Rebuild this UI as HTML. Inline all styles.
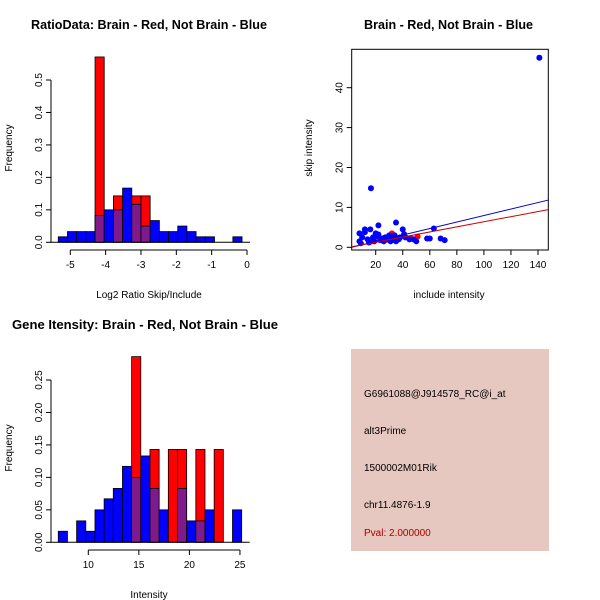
<!DOCTYPE html>
<html><head><meta charset="utf-8"><style>
body{margin:0;background:#fff}
svg{display:block;font-family:"Liberation Sans",sans-serif}
</style></head><body>
<svg id="c" width="600" height="600" viewBox="0 0 600 600">
<rect width="600" height="600" fill="#fff"/>
<text x="31" y="29" font-size="12.5" font-weight="bold" textLength="236" lengthAdjust="spacingAndGlyphs">RatioData: Brain - Red, Not Brain - Blue</text>
<text x="364" y="29" font-size="12.5" font-weight="bold" textLength="169" lengthAdjust="spacingAndGlyphs">Brain - Red, Not Brain - Blue</text>
<text x="12" y="329" font-size="13" font-weight="bold" textLength="266" lengthAdjust="spacingAndGlyphs">Gene Itensity: Brain - Red, Not Brain - Blue</text>
<text x="149" y="298" font-size="10" text-anchor="middle">Log2 Ratio Skip/Include</text>
<text x="449" y="298" font-size="10" text-anchor="middle">include intensity</text>
<text x="149" y="598" font-size="10" text-anchor="middle">Intensity</text>
<text transform="translate(12,148) rotate(-90)" font-size="10" text-anchor="middle">Frequency</text>
<text transform="translate(312,148) rotate(-90)" font-size="10" text-anchor="middle">skip intensity</text>
<text transform="translate(12,448) rotate(-90)" font-size="10" text-anchor="middle">Frequency</text>
<g id="g1"></g>
<g id="g2"></g>
<g id="g3"></g>
<g>
<rect x="351" y="349" width="198" height="202" fill="#e6c8c0"/>
<text x="364" y="397" font-size="10">G6961088@J914578_RC@i_at</text>
<text x="364" y="434" font-size="10">alt3Prime</text>
<text x="364" y="471" font-size="10">1500002M01Rik</text>
<text x="364" y="508" font-size="10">chr11.4876-1.9</text>
<text x="364" y="536" font-size="10" fill="#aa0000">Pval: 2.000000</text>
</g>
</svg>
<script>
const ratioBlue=[0.017,0.033,0.033,0.033,0.083,0.1,0.1,0.167,0.117,0.05,0.067,0.033,0.033,0.05,0.033,0.017,0.017,0,0,0.017];
const ratioRed=[0,0,0,0,0.571,0,0.143,0,0.143,0.143,0,0,0,0,0,0,0,0,0,0];
const ratioXTicks=[-5,-4,-3,-2,-1,0];
const ratioYTicks=[0,0.1,0.2,0.3,0.4,0.5];
const intBlue=[0.017,0,0.033,0.017,0.05,0.067,0.083,0.117,0.1,0.133,0.083,0.05,0,0.083,0.033,0.033,0.05,0,0,0.05];
const intRed=[0,0,0,0,0,0,0,0,0.286,0,0.143,0,0.143,0.143,0,0.143,0,0.143,0,0];
const intXTicks=[10,15,20,25];
const intYTicks=[0,0.05,0.1,0.15,0.2,0.25];
const incBlue=[141,16.5,35,22,63,40,12,16,8,20,22,41,30,34,10,14,18,25,28,32,37,45,48,50,58,60,68,71,8,9,19,24,27,31,35,38,42,15,21,26,30,33,12];
const skipBlue=[47.5,14.8,6.2,5.5,4.7,4.5,4.5,4.5,3.5,3.5,3.2,3.3,3,3,2.5,2,2.5,2.2,2,1.8,2,2,2,1.5,2.2,2.2,2.2,1.8,1.5,1,1.5,1.8,2.5,1.5,1.5,2.5,2.5,1.2,2.8,1.5,1.8,2.8,3.8];
const incRed=[32,46,51,17,23];
const skipRed=[3.5,2.3,2.7,1.5,1.8];
const fitBlue=[-0.18,0.0814];
const fitRed=[0,0.064];
const scXTicks=[20,40,60,80,100,120,140];
const scYTicks=[0,10,20,30,40];
const NS='http://www.w3.org/2000/svg';
function mk(p,t,a){const e=document.createElementNS(NS,t);for(const k in a)e.setAttribute(k,a[k]);p.appendChild(e);return e;}
function hist(g,blue,red,x0,bw,sx,sy,xt,yt,fmt,axY,axX){
  for(let i=0;i<blue.length;i++){
    const xa=sx(x0+i*bw),xb=sx(x0+(i+1)*bw);
    const b=blue[i],r=red[i],m=Math.min(b,r);
    if(r>0){const e=mk(g,'rect',{x:xa,y:sy(r),width:xb-xa,height:sy(0)-sy(r),fill:'#ff0000',stroke:'#000','stroke-width':0.8});
      
      }
    if(b>r){const e=mk(g,'rect',{x:xa,y:sy(b),width:xb-xa,height:sy(0)-sy(b),fill:'#0000ff',stroke:'#000','stroke-width':0.8});
      
      }
    if(m>0){const e=mk(g,'rect',{x:xa,y:sy(m),width:xb-xa,height:sy(0)-sy(m),fill:'#7f1a8c',stroke:'#000','stroke-width':0.8});
      
      }
  }
  mk(g,'line',{x1:sx(x0)-8,x2:sx(x0+blue.length*bw)+8,y1:sy(0),y2:sy(0),stroke:'#000'});
  mk(g,'line',{x1:sx(xt[0]),x2:sx(xt[xt.length-1]),y1:axX,y2:axX,stroke:'#000'});
  xt.forEach(v=>{mk(g,'line',{x1:sx(v),x2:sx(v),y1:axX,y2:axX+5,stroke:'#000'});
    const t=mk(g,'text',{x:sx(v),y:axX+18,'font-size':10,'text-anchor':'middle'});t.textContent=v;
    
    });
  mk(g,'line',{x1:axY,x2:axY,y1:sy(yt[0]),y2:sy(yt[yt.length-1]),stroke:'#000'});
  yt.forEach(v=>{mk(g,'line',{x1:axY-5,x2:axY,y1:sy(v),y2:sy(v),stroke:'#000'});
    const t=mk(g,'text',{transform:`translate(${axY-9},${sy(v)}) rotate(-90)`,'font-size':10,'text-anchor':'middle'});t.textContent=fmt(v);
    
    });
}
hist(document.getElementById('g1'),ratioBlue,ratioRed,-5.34,0.26,v=>70.3+(v+5)*35.34,v=>242.3-v*324.6,ratioXTicks,ratioYTicks,v=>v.toFixed(1),51,250);
hist(document.getElementById('g3'),intBlue,intRed,7.03,0.907,v=>88.3+(v-10)*10.11,v=>542.3-v*649.2,intXTicks,intYTicks,v=>v.toFixed(2),51,550);
const g2=document.getElementById('g2');
const sx=v=>375.7+(v-20)*1.3525, sy=v=>247.3-v*3.99;
const L=351.7,R=548.3,T=49.3,B=250;
mk(g2,'rect',{x:L,y:T,width:R-L,height:B-T,fill:'none',stroke:'#000'});
const cp=mk(g2,'clipPath',{id:'cp'});mk(cp,'rect',{x:L,y:T,width:R-L,height:B-T});
scXTicks.forEach(v=>{mk(g2,'line',{x1:sx(v),x2:sx(v),y1:B,y2:B+5,stroke:'#000'});
  const t=mk(g2,'text',{x:sx(v),y:B+18,'font-size':10,'text-anchor':'middle'});t.textContent=v;
  
  });
scYTicks.forEach(v=>{mk(g2,'line',{x1:L-5,x2:L,y1:sy(v),y2:sy(v),stroke:'#000'});
  const t=mk(g2,'text',{transform:`translate(${L-9},${sy(v)}) rotate(-90)`,'font-size':10,'text-anchor':'middle'});t.textContent=v;
  
  });
for(let i=0;i<incRed.length;i++){const c=mk(g2,'circle',{cx:sx(incRed[i]),cy:sy(skipRed[i]),r:3,fill:'#ff0000'});
  
  }
for(let i=0;i<incBlue.length;i++){const c=mk(g2,'circle',{cx:sx(incBlue[i]),cy:sy(skipBlue[i]),r:3,fill:'#0000ff'});
  
  }
const x0=(L-375.7)/1.3525+20,x1=(R-375.7)/1.3525+20;
const lb=mk(g2,'line',{x1:sx(x0),x2:sx(x1),y1:sy(fitBlue[0]+fitBlue[1]*x0),y2:sy(fitBlue[0]+fitBlue[1]*x1),stroke:'#0000cc','clip-path':'url(#cp)'});


const lr=mk(g2,'line',{x1:sx(x0),x2:sx(x1),y1:sy(fitRed[0]+fitRed[1]*x0),y2:sy(fitRed[0]+fitRed[1]*x1),stroke:'#cc0000','clip-path':'url(#cp)'});


</script>
</body></html>
